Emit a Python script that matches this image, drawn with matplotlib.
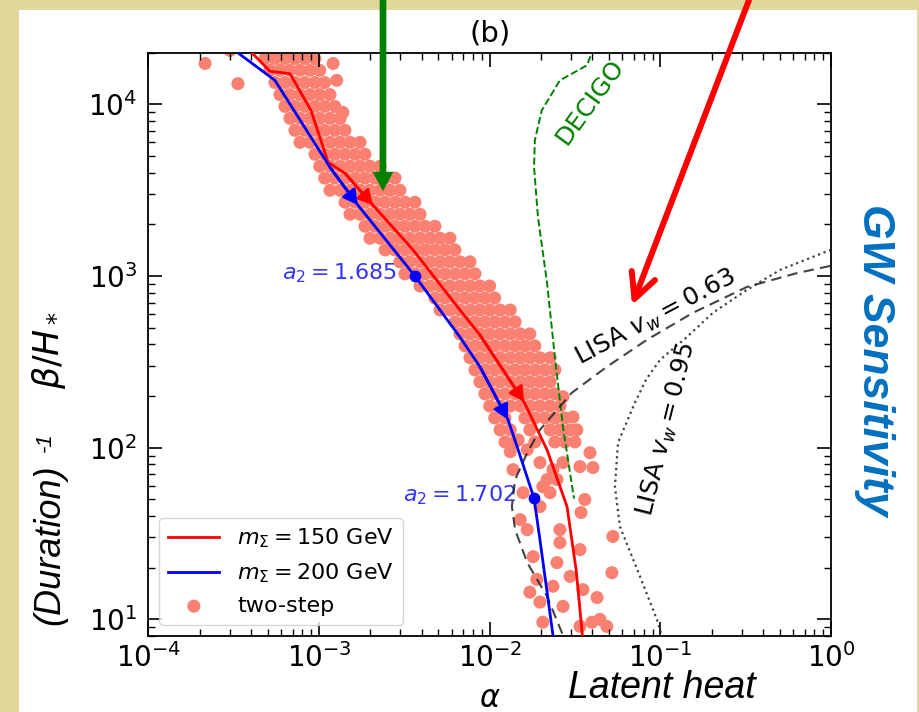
import matplotlib.pyplot as plt
from matplotlib.patches import Rectangle

# ---------------- data ----------------
# m_Sigma = 150 GeV path
red_alpha = [3.78e-4, 5.16e-4, 6.76e-4, 8.98e-4, 1.13e-3, 1.42e-3, 2.07e-3, 3.56e-3,
             6.70e-3, 8.77e-3, 1.59e-2, 2.17e-2, 2.84e-2, 3.21e-2, 3.56e-2]
red_beta = [2.14e4, 1.56e4, 1.51e4, 9.23e3, 4.60e3, 3.97e3, 2.59e3, 1.42e3,
            634, 454, 185, 97, 45.4, 19.5, 6.7]
red_arrows = [6, 10]

# m_Sigma = 200 GeV path
blue_alpha = [3.05e-4, 5.52e-4, 1.16e-3, 1.69e-3, 3.65e-3, 6.70e-3, 8.77e-3, 1.28e-2,
              1.47e-2, 1.82e-2, 1.97e-2, 2.41e-2]
blue_beta = [2.14e4, 1.38e4, 4.30e3, 2.59e3, 1.00e3, 441, 296, 146, 97, 50.8, 29.2, 6.7]
blue_arrows = [3, 7]
blue_marks = [4, 9]
blue_marks_text = ["$a_2=1.685$", "$a_2=1.702$"]

# sensitivity curves
decigo_alpha = [4.08e-2, 3.72e-2, 2.58e-2, 2.02e-2, 1.84e-2, 1.82e-2, 1.92e-2, 2.17e-2,
                2.42e-2, 2.69e-2, 3.12e-2]
decigo_beta = [2.17e4, 1.69e4, 1.38e4, 9.23e3, 6.18e3, 4.30e3, 2.20e3, 910, 325, 132, 50.5]

lisa63_alpha = [2.88e-2, 2.69e-2, 2.17e-2, 1.66e-2, 1.41e-2, 1.35e-2, 1.41e-2, 1.66e-2,
                1.97e-2, 3.03e-2, 4.86e-2, 8.34e-2, 0.155, 0.321, 0.631, 1.05]
lisa63_beta = [6.7, 8.07, 13.6, 21.4, 33.3, 45.4, 65.2, 93.5, 127, 209, 296, 425,
               610, 863, 1040, 1160]

lisa95_alpha = [0.105, 0.0968, 0.0760, 0.0580, 0.0542, 0.0565, 0.0710, 0.0824, 0.0996,
                0.143, 0.203, 0.321, 0.502, 0.986, 1.13]
lisa95_beta = [7.16, 9.62, 17.8, 34.7, 59.3, 107, 183, 249, 325, 441, 610, 830, 1084,
               1416, 1475]

# two-step points, row by row
band_beta = [2.17e4, 1.85e4, 1.58e4, 1.34e4, 1.14e4, 9.73e3, 8.29e3, 7.06e3, 6.01e3,
             5.12e3, 4.36e3, 3.72e3, 3.16e3, 2.69e3, 2.29e3, 1.95e3, 1.66e3, 1.42e3,
             1.21e3, 1.03e3, 875, 745, 634, 540, 460, 392, 334, 284, 242, 206, 175,
             149, 127, 108]
band_alpha = [
    [5.16e-4, 5.91e-4, 6.76e-4, 7.74e-4, 8.85e-4],
    [4.83e-4, 5.52e-4, 6.32e-4, 7.23e-4, 8.27e-4, 9.47e-4],
    [5.16e-4, 5.91e-4, 6.76e-4, 7.74e-4, 8.85e-4, 1.01e-3],
    [5.52e-4, 6.32e-4, 7.23e-4, 8.27e-4, 9.47e-4, 1.08e-3],
    [5.91e-4, 6.76e-4, 7.74e-4, 8.85e-4, 1.01e-3, 1.16e-3],
    [6.32e-4, 7.23e-4, 8.27e-4, 9.47e-4, 1.08e-3, 1.24e-3],
    [6.76e-4, 7.74e-4, 8.85e-4, 1.01e-3, 1.16e-3, 1.33e-3],
    [7.23e-4, 8.27e-4, 9.47e-4, 1.08e-3, 1.24e-3, 1.42e-3],
    [7.74e-4, 8.85e-4, 1.01e-3, 1.16e-3, 1.33e-3, 1.52e-3, 1.74e-3],
    [9.47e-4, 1.08e-3, 1.24e-3, 1.42e-3, 1.63e-3, 1.86e-3],
    [1.01e-3, 1.16e-3, 1.33e-3, 1.52e-3, 1.74e-3, 1.99e-3, 2.28e-3],
    [1.08e-3, 1.24e-3, 1.42e-3, 1.63e-3, 1.86e-3, 2.13e-3, 2.44e-3, 2.79e-3],
    [1.16e-3, 1.33e-3, 1.52e-3, 1.74e-3, 1.99e-3, 2.28e-3, 2.61e-3, 2.98e-3],
    [1.42e-3, 1.63e-3, 1.86e-3, 2.13e-3, 2.44e-3, 2.79e-3, 3.19e-3, 3.65e-3],
    [1.52e-3, 1.74e-3, 1.99e-3, 2.28e-3, 2.61e-3, 2.98e-3, 3.41e-3, 3.91e-3],
    [1.86e-3, 2.13e-3, 2.44e-3, 2.79e-3, 3.19e-3, 3.65e-3, 4.18e-3, 4.78e-3],
    [1.99e-3, 2.28e-3, 2.61e-3, 2.98e-3, 3.41e-3, 3.91e-3, 4.47e-3, 5.12e-3, 5.85e-3],
    [2.44e-3, 2.79e-3, 3.19e-3, 3.65e-3, 4.18e-3, 4.78e-3, 5.47e-3, 6.26e-3],
    [2.98e-3, 3.41e-3, 3.91e-3, 4.47e-3, 5.12e-3, 5.85e-3, 6.70e-3, 7.67e-3],
    [3.19e-3, 3.65e-3, 4.18e-3, 4.78e-3, 5.47e-3, 6.26e-3, 7.17e-3, 8.20e-3],
    [3.91e-3, 4.47e-3, 5.12e-3, 5.85e-3, 6.70e-3, 7.67e-3, 8.77e-3, 1.00e-2],
    [4.78e-3, 5.47e-3, 6.26e-3, 7.17e-3, 8.20e-3, 9.38e-3, 1.07e-2],
    [5.12e-3, 5.85e-3, 6.70e-3, 7.67e-3, 8.77e-3, 1.00e-2, 1.15e-2, 1.32e-2],
    [6.26e-3, 7.17e-3, 8.20e-3, 9.38e-3, 1.07e-2, 1.23e-2, 1.41e-2],
    [6.70e-3, 7.67e-3, 8.77e-3, 1.00e-2, 1.15e-2, 1.32e-2, 1.51e-2, 1.72e-2],
    [7.17e-3, 8.20e-3, 9.38e-3, 1.07e-2, 1.23e-2, 1.41e-2, 1.61e-2, 1.84e-2],
    [7.67e-3, 8.77e-3, 1.00e-2, 1.15e-2, 1.32e-2, 1.51e-2, 1.72e-2, 1.97e-2, 2.26e-2],
    [8.20e-3, 9.38e-3, 1.07e-2, 1.23e-2, 1.41e-2, 1.61e-2, 1.84e-2, 2.11e-2, 2.41e-2],
    [8.77e-3, 1.00e-2, 1.15e-2, 1.32e-2, 1.51e-2, 1.72e-2, 1.97e-2, 2.26e-2],
    [9.38e-3, 1.07e-2, 1.23e-2, 1.41e-2, 1.61e-2, 1.84e-2, 2.11e-2, 2.41e-2],
    [1.00e-2, 1.15e-2, 1.32e-2, 1.51e-2, 1.72e-2, 1.97e-2, 2.26e-2, 2.58e-2],
    [1.07e-2, 1.23e-2, 1.61e-2, 1.84e-2, 2.11e-2, 2.41e-2, 2.76e-2],
    [1.15e-2, 1.32e-2, 1.72e-2, 2.26e-2, 2.58e-2, 2.96e-2],
    [1.23e-2, 1.41e-2, 1.84e-2, 2.41e-2, 2.76e-2, 3.16e-2],
]
# isolated points (top) and the sparse tail (bottom)
loose_alpha = [2.15e-4, 3.35e-4, 3.01e-4, 1.21e-3, 1.27e-3, 1.38e-3,
               1.47e-2, 1.66e-2, 2.69e-2, 3.08e-2, 3.24e-2, 3.87e-2, 4.03e-2, 3.61e-2,
               3.43e-2, 5.27e-2, 5.20e-2, 2.58e-2, 2.48e-2, 1.89e-2, 1.72e-2, 2.35e-2,
               2.96e-2, 3.52e-2, 2.69e-2, 4.43e-2, 4.86e-2, 2.05e-2, 1.66e-2, 1.51e-2,
               1.97e-2, 2.26e-2, 2.35e-2, 2.05e-2, 3.38e-2, 1.57e-2, 1.37e-2, 3.38e-2,
               1.32e-2, 1.97e-2, 2.17e-2, 2.48e-2, 2.69e-2, 3.38e-2, 1.80e-2, 2.58e-2,
               1.97e-2, 3.97e-2, 4.26e-2]
loose_beta = [1.73e4, 1.32e4, 2.06e4, 1.73e4, 1.38e4, 8.98e3,
              111, 97.3, 198, 151, 127, 93.5, 76.6, 49.9,
              41.9, 30.4, 18.7, 28.0, 21.4, 17.1, 14.4, 15.6,
              17.8, 14.9, 11.9, 10.0, 9.10, 9.62, 33.3, 38.1,
              45.4, 54.7, 74.5, 59.3, 9.10, 54.7, 74.5, 25.5,
              94.8, 81.9, 65.2, 65.2, 81.9, 77.6, 23.2, 33.3,
              12.6, 9.62, 13.4]

twostep_alpha = [a for row in band_alpha for a in row] + loose_alpha
twostep_beta = [b for b, row in zip(band_beta, band_alpha) for _ in row] + loose_beta

# ---------------- figure ----------------
W, H = 919, 712
fig = plt.figure(figsize=(W / 100, H / 100), dpi=100, facecolor='#e3d89b')
fig.add_artist(Rectangle((19 / W, 0), 898 / W, 1 - 10 / H, transform=fig.transFigure,
                         facecolor='white', edgecolor='none', zorder=0))

ax = fig.add_axes([148.3 / W, 1 - 636 / H, 682.7 / W, 583.3 / H])
ax.set_xscale('log')
ax.set_yscale('log')

pts = ax.scatter(twostep_alpha, twostep_beta, s=88, color='salmon', edgecolors='none',
                 zorder=1, label='two-step')
l150, = ax.plot(red_alpha, red_beta, color='red', lw=2, zorder=4,
                label=r'$m_\Sigma=150$ GeV')
l200, = ax.plot(blue_alpha, blue_beta, color='blue', lw=2, zorder=4,
                label=r'$m_\Sigma=200$ GeV')

# direction arrows along the two paths
for xs, ys, idx, c in [(red_alpha, red_beta, red_arrows, 'red'),
                       (blue_alpha, blue_beta, blue_arrows, 'blue')]:
    for i in idx:
        ax.annotate('', xy=(xs[i], ys[i]), xytext=(xs[i - 1], ys[i - 1]),
                    arrowprops=dict(arrowstyle='-|>,head_length=0.55,head_width=0.3',
                                    color=c, lw=2, mutation_scale=16,
                                    shrinkA=0, shrinkB=0), zorder=5)

for i, txt in zip(blue_marks, blue_marks_text):
    ax.plot(blue_alpha[i], blue_beta[i], 'o', color='blue', ms=7.5, zorder=6)
    ax.annotate(txt, xy=(blue_alpha[i], blue_beta[i]), xytext=(-13, 2),
                textcoords='offset points', ha='right', va='center',
                color='#3333ff', fontsize=16)

ax.plot(decigo_alpha, decigo_beta, '--', color='green', lw=1.4, zorder=3)
ax.plot(lisa63_alpha, lisa63_beta, '--', color='#222222', lw=1.5, dashes=(5, 3),
        alpha=0.85, zorder=3)
ax.plot(lisa95_alpha, lisa95_beta, ':', color='#222222', lw=1.6, alpha=0.85, zorder=3)

ax.text(3.87e-2, 1.03e4, 'DECIGO', color='green', fontsize=18, rotation=54,
        ha='center', va='center')
ax.text(9.4e-2, 570, r'LISA $v_w=0.63$', fontsize=18, rotation=28,
        ha='center', va='center')
ax.text(0.109, 127, r'LISA $v_w=0.95$', fontsize=18, rotation=76,
        ha='center', va='center')

ax.set_xlim(1e-4, 1)
ax.set_ylim(8, 2e4)
ax.tick_params(which='both', direction='in', top=True, right=True)
ax.tick_params(which='major', length=10, width=1.2, labelsize=20)
ax.tick_params(which='minor', length=5, width=1)
ax.tick_params(axis='x', pad=5)
ax.tick_params(axis='y', pad=8)
for s in ax.spines.values():
    s.set_linewidth(1.3)

ax.set_xlabel(r'$\alpha$', fontsize=22)
ax.set_ylabel(r'$\beta/H_*$', fontsize=25)
ax.xaxis.set_label_coords(0.5, -0.082)
ax.yaxis.set_label_coords(-0.117, 0.49)
ax.set_title('(b)', fontsize=21, pad=8)

ax.legend([l150, l200, pts], [l150.get_label(), l200.get_label(), pts.get_label()],
          loc='lower left', fontsize=16, handlelength=2.3, borderaxespad=0.5)

# annotations around the panel
ax.annotate('', xy=(2.37e-3, 3.12e3), xytext=(383 / W, 1.0), textcoords='figure fraction',
            arrowprops=dict(facecolor='green', edgecolor='none', width=4.8,
                            headwidth=15, headlength=14, shrink=0),
            annotation_clip=False, zorder=7)
ax.annotate('', xy=(0.0683, 677), xytext=(749 / W, 1.0), textcoords='figure fraction',
            arrowprops=dict(arrowstyle='->,head_length=0.9,head_width=0.45', color='red',
                            lw=4.3, mutation_scale=20, shrinkA=0, shrinkB=0),
            annotation_clip=False, zorder=7)

fig.text(875 / W, 1 - 360 / H, 'GW Sensitivity', rotation=-90, color='#0070c0',
         fontsize=32, fontweight='bold', fontstyle='italic', family='Liberation Sans',
         ha='center', va='center')
fig.text(662 / W, 1 - 688 / H, 'Latent heat', fontsize=27, fontstyle='italic',
         family='Liberation Sans', ha='center', va='center')
fig.text(50 / W, 1 - 545 / H, '(Duration)', rotation=90, fontsize=26, fontstyle='italic',
         family='Liberation Sans', ha='center', va='center')
fig.text(45 / W, 1 - 442 / H, '-1', rotation=90, fontsize=16, fontstyle='italic',
         family='Liberation Sans', ha='center', va='center')

fig.savefig('out.png', dpi=100, facecolor=fig.get_facecolor())
